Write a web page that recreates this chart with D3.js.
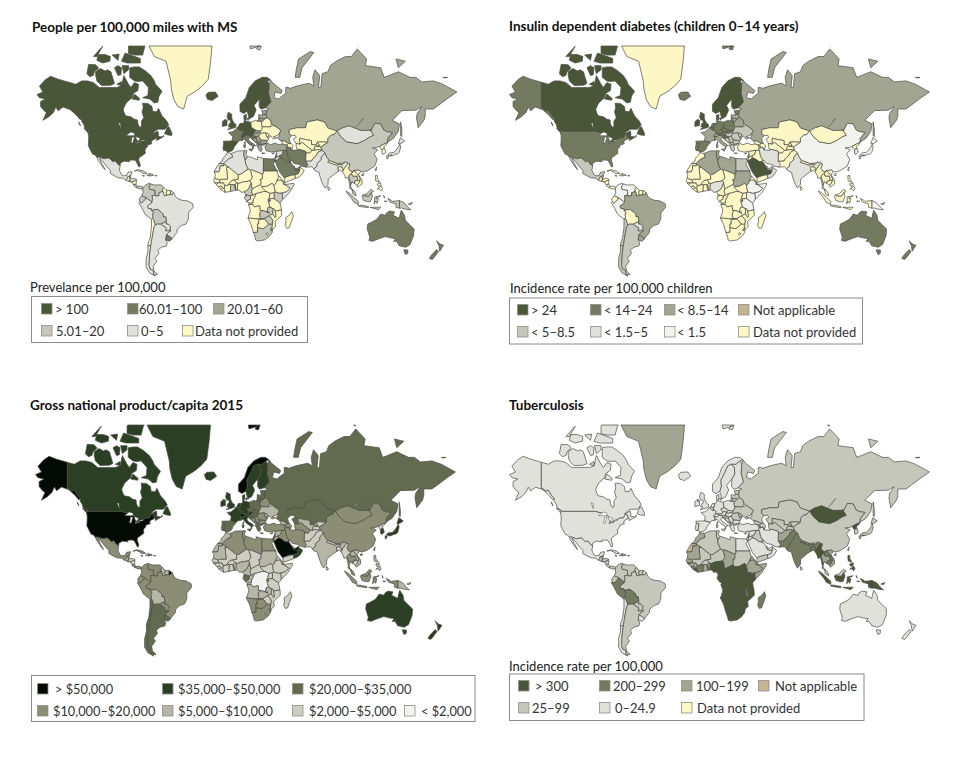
<!DOCTYPE html>
<html><head><meta charset="utf-8">
<script src="https://cdn.jsdelivr.net/npm/d3@7/dist/d3.min.js"></script>
<style>html,body{margin:0;background:#fff}svg{display:block}text{font-family:Lato,"Open Sans",sans-serif}</style>
</head><body><svg id="c" width="960" height="780"></svg>
<script>
// country outlines, longitude,latitude
const shapes = {
CAN:["-141,69.6 -135,69 -130,70 -125,70 -120,69.5 -115,68 -108,68 -100,68 -96,68.5 -94,71.5 -90,69 -88,68 -85,69.5 -81.5,69 -82,67 -86,66 -87,64.5 -92,62.5 -94.5,60 -94,58.7 -92.5,57 -88,56.5 -85,55.3 -82.3,55 -82,53 -80.5,51.3 -79,51.5 -79,54.5 -77,56 -78.5,58.7 -77.5,60.5 -78,62.4 -73.5,62.3 -70,61 -69.5,59 -66,58.8 -64.5,60.3 -61.5,57 -57.5,54.5 -55.7,52.5 -59,50.2 -65,50.2 -68,49 -70,47.5 -65,49.2 -64.5,47.5 -64.8,46.2 -61.5,45.8 -60,46.8 -60,46 -63.5,44.6 -66,43.6 -66,45 -67,45.2 -67.8,47.1 -69.2,47.4 -71,45.3 -74.7,45 -76.5,44 -79,43.3 -79.2,42.8 -83,42 -82.5,43 -82.5,45.3 -84.5,46.5 -88.4,48.3 -89.6,48 -95,49 -123,49 -125,50 -127.5,51 -128,52.5 -130,54.5 -130,55.9 -132,57 -135,59.5 -137.5,59 -139,60 -141,60.3",
"-125,48.5 -128,50.7 -125,50 -123.5,48.5","-59.3,47.7 -57,51.3 -55.5,51.5 -53,48 -53,46.7 -56,46.9",
"-61.5,66.7 -64,65 -65,62.8 -68,62.5 -72,64 -78,64.5 -73.5,65.3 -73,68 -78,70 -82,69.8 -85,70 -89,71 -89,73.5 -85,73.7 -81,73.7 -76,72.8 -71,71.5 -68,70 -67,69 -62,67",
"-118,71.5 -117,70 -113,68.6 -105,68.7 -102,69.2 -105,72.5 -108,73 -110,72.7 -114,73.3 -118,72.5","-125.5,72 -123,71.2 -120,71.5 -119,72.5 -115.5,73.4 -118,74.2 -124,74.3",
"-90,76.6 -85,76.3 -78,76.3 -76,78 -72,79 -65,81 -63,82 -70,83 -90,82 -88,80 -86,79 -90,78","-96,75 -91,74.6 -80,74.6 -80,75.6 -88,76.3 -93,76.7","-117,75.2 -112,74.6 -106,75 -105.5,76 -110,76.4 -116,76.4",
"-87,64 -81,63.5 -80.5,64.2 -85,65.8","-102,73.5 -99,71.5 -96.5,71.7 -96,73.5 -99,74","-95.5,74 -90,74 -90,73 -94,72","-95,81 -88,80.4 -87,79 -92,78.2 -95,79.5","-104,76.3 -99,75.2 -98,76.5","-120,76 -112,78 -117,76","-100,69 -96,68.5 -96,69.8","-132.5,54 -131.5,53 -131,52 -132,53"],
USA:["-124.7,48.4 -123,49 -95,49 -89.6,48 -88.4,48.3 -84.5,46.5 -82.5,45.3 -82.5,43 -83,42 -79.2,42.8 -79,43.3 -76.5,44 -74.7,45 -71,45.3 -69.2,47.4 -67.8,47.1 -67,45.2 -67,44.7 -70,43.7 -70.8,42 -70,41.7 -74,40.6 -74,39.5 -75.5,38.5 -76,37 -75.6,35.3 -78,33.8 -81,32 -81.4,30.5 -80,26.9 -80.3,25.3 -81.2,25.2 -82.7,28 -84,30 -86,30.4 -89.5,30.2 -89.2,29.1 -91,29.3 -94,29.6 -97,28 -97.2,26 -99.5,27.5 -101.5,29.8 -103.2,29 -106.5,31.8 -108.2,31.8 -111,31.3 -114.8,32.5 -117.1,32.5 -118.5,34 -120.6,34.6 -122.5,37.5 -124.3,40.3 -124,44 -124,46.5"],
ALK:["-141,69.6 -141,60.3 -139,60 -137.5,59 -135,59.5 -132,57 -130,55.9 -131,55 -134,57 -137,58.5 -140,59.8 -146,60.8 -150,59.2 -152,60.8 -154,58.5 -158,56.5 -163,54.8 -160,58.5 -162,59.2 -165,61 -165,63 -161,64 -166,64.5 -168,65.6 -163,66.5 -166,68.4 -161,70.3 -156.5,71.3 -150,70.5"],
MEX:["-117.1,32.5 -114.8,32.5 -111,31.3 -108.2,31.8 -106.5,31.8 -103.2,29 -101.5,29.8 -99.5,27.5 -97.2,26 -97.8,22.5 -95.8,18.8 -94,18.2 -91.5,18.5 -90.5,21 -87,21.5 -88,18.5 -89.1,17.9 -91,17.2 -91,16 -92.2,14.5 -94.5,16.2 -99,16.6 -105.5,20 -105.5,22.5 -109,26 -112.5,30 -114.7,31.7 -113,28 -111,25 -110,23 -112,25 -114,28 -115.8,30"],
GTM:["-92.2,14.5 -91,16 -91,17.2 -89.1,17.9 -89,15.9 -88.2,15.7 -89.4,14.4 -90,13.7"],BLZ:["-89.1,17.9 -88,18.5 -88.3,16 -89,15.9"],
HND:["-88.2,15.7 -85,16 -83.2,15 -85,14 -87.3,13 -87.8,13.4 -89.4,14.4"],SLV:["-90,13.7 -89.4,14.4 -87.8,13.4 -88,13.1"],
NIC:["-83.2,15 -83.6,11 -85.7,11.1 -87.3,13 -85,14"],CRI:["-83.6,11 -82.6,9.5 -83,8.2 -85.7,10 -85.7,11.1"],PAN:["-82.6,9.5 -79.5,9.6 -77.3,8.6 -77.9,7.2 -80,7.3 -83,8.2"],
CUB:["-85,21.9 -82,23.1 -77,22 -74.2,20.2 -77.7,19.9 -78,20.7 -82,22.4"],HTI:["-74.4,18.4 -73,19.9 -71.7,19.8 -71.7,18.1"],DOM:["-71.7,19.8 -69,19.2 -68.4,18.6 -71.7,18.1"],JAM:["-78.3,18.4 -76.3,18.2 -77,17.8"],PRI:["-67.2,18.5 -65.6,18.4 -66,18 -67.2,18"],
COL:["-77.3,8.6 -75.5,10.7 -72,12.2 -71.3,11.5 -72.5,9 -72,7 -67.5,6.2 -67.2,2 -70,1.5 -69.5,-0.5 -70,-4.2 -72,-2.5 -75.2,-0.1 -78.8,1.4 -77.5,4 -77.9,7.2"],
VEN:["-71.3,11.5 -68,10.6 -62,10.7 -60,8.5 -61.2,6.8 -60.7,5.2 -64,4 -64,1.5 -67,1.2 -67.2,2 -67.5,6.2 -72,7 -72.5,9"],
GUY:["-60,8.5 -57.2,6 -58,3.8 -57,2 -59.5,1.4 -60.7,5.2 -61.2,6.8"],SUR:["-57.2,6 -54,5.9 -54.5,2.4 -57,2 -58,3.8"],GUF:["-54,5.9 -51.6,4.2 -52.8,2.3 -54.5,2.4"],
BRA:["-51.6,4.2 -50,1 -48,-1 -44,-2.5 -40,-2.8 -35.3,-5.3 -35,-8.5 -39,-13 -39,-18 -41,-22 -45,-23.3 -48.5,-26 -48.7,-28.5 -52,-32 -53.4,-33.7 -53.2,-32.7 -57.6,-30.2 -55.8,-28.3 -53.8,-27.2 -54.6,-25.6 -54.3,-24 -55.8,-22.3 -58,-22 -57.9,-20 -58.2,-16.3 -60.2,-16.3 -60.5,-13.8 -65.3,-10 -70.5,-11 -70.6,-9.5 -73.2,-9.4 -74,-7.3 -70,-4.2 -69.5,-0.5 -70,1.5 -67.2,2 -67,1.2 -64,1.5 -64,4 -60.7,5.2 -59.5,1.4 -57,2 -54.5,2.4 -52.8,2.3"],
ECU:["-78.8,1.4 -80.1,0 -81,-2 -80.3,-3.4 -79,-5 -75.6,-1.6 -75.2,-0.1"],
PER:["-75.2,-0.1 -75.6,-1.6 -79,-5 -80.3,-3.4 -81.3,-4.5 -79,-8 -76,-14 -70.4,-18.3 -69.5,-17.5 -69,-16.5 -69.5,-15 -68.7,-12.5 -70.5,-11 -70.6,-9.5 -73.2,-9.4 -74,-7.3 -70,-4.2 -72,-2.5"],
BOL:["-70.5,-11 -65.3,-10 -60.5,-13.8 -60.2,-16.3 -58.2,-16.3 -57.9,-20 -62.6,-22.2 -65.7,-22.1 -67.2,-22.8 -68.6,-19 -69.5,-17.5 -69,-16.5 -69.5,-15 -68.7,-12.5"],
PRY:["-58,-22 -55.8,-22.3 -54.3,-24 -54.6,-25.6 -55.8,-27.3 -58.6,-27.3 -57.7,-25.3 -62.6,-22.2 -57.9,-20"],
CHL:["-69.5,-17.5 -68.6,-19 -67.2,-22.8 -68.3,-24.5 -70,-33 -71,-38 -73.5,-38 -73.5,-37 -71.5,-32 -70.5,-25 -70.4,-18.3"],
CHS:["-71,-38 -72,-44 -72.5,-50 -71.5,-52 -69,-52.5 -68.6,-54.9 -67,-55.5 -72,-54 -75,-51 -75,-46 -73.5,-42 -73.5,-38"],
ARG:["-65.7,-22.1 -62.6,-22.2 -57.7,-25.3 -58.6,-27.3 -55.8,-27.3 -53.8,-27.2 -55.8,-28.3 -57.6,-30.2 -58.3,-34 -57,-36 -57.8,-38.2 -62,-39 -65,-41 -64,-42.8 -67.5,-46 -65.8,-47.5 -69,-50.5 -68.4,-52.3 -69,-52.5 -71.5,-52 -72.5,-50 -72,-44 -71,-38 -70,-33 -68.3,-24.5 -67.2,-22.8","-68.6,-52.7 -68.6,-54.9 -65.2,-54.7"],
URY:["-57.6,-30.2 -53.2,-32.7 -53.4,-33.7 -55,-34.9 -58.3,-34"],
GRL:["-73,78.2 -60,82.5 -30,83.6 -18,80 -20,75 -22,70.5 -27,68.5 -33,66.7 -40,65 -43,60 -48,61 -51.5,64 -53.5,67.5 -54,70 -58,75 -68,76"],
ISL:["-24,65.5 -22,66.4 -16,66.5 -13.6,65 -18.8,63.4 -22.7,63.9"],
GBR:["-5.5,50 -1,50.7 1.4,51.2 1.7,52.7 0,53.4 -1.5,55 -2,56 -2,57.7 -5,58.6 -6,56.5 -5,55 -3,54.9 -3,53.4 -4.5,53 -4.2,52.2 -5.2,51.7 -3,51.3","-7.3,55.2 -5.5,54.5 -6.2,54.1 -8,54.5"],
IRL:["-8,54.5 -6.2,54.1 -6,52.2 -10,51.7 -10,54 -8.5,55 -7.3,55.2"],
FRA:["2.5,51.1 4.2,50 5.8,49.5 6.5,49.8 8.2,49 7.6,47.6 6,46.2 7,45.9 7,44 7.5,43.8 4,43.4 3.1,42.4 -1.8,43.4 -1.2,46 -4.7,48.4 -1.6,48.7 0,49.5 1.5,50.2","8.6,41.9 9.4,43 9.4,41.5"],
ESP:["-9.2,43.2 -1.8,43.4 3.1,42.4 0,39.5 -0.5,38 -2,36.8 -5.5,36 -7.4,37.2 -7,39.5 -6.5,41.7 -8.8,41.9"],PRT:["-8.8,41.9 -6.5,41.7 -7,39.5 -7.4,37.2 -9,37 -9.5,38.8"],
BEL:["2.5,51.1 4.2,51.4 6,50.7 5.8,49.5 4.2,50"],NLD:["3.5,51.4 4.2,51.4 6,50.7 7.1,53.2 5,53.3"],LUX:["5.8,49.5 6.1,50.1 6.5,49.8"],
DEU:["6,50.7 7.1,53.2 8.7,53.9 8.7,54.9 10,54.5 14.2,53.9 14.8,51 12.2,50.3 13.8,48.7 13,47.5 7.6,47.6 8.2,49 6.5,49.8 6.1,50.1"],
DNK:["8.2,57 10.5,57.7 10.3,55 8.7,54.9","11,55.8 12.5,56 12,54.8"],CHE:["6,46.2 7.6,47.6 9.6,47.5 10.4,46.8 9,45.9 7,45.9"],AUT:["9.6,47.5 13,47.5 13.8,48.7 15,49 17,48.7 16.1,46.9 13.7,46.5 10.4,46.8"],
ITA:["7,44 7,45.9 9,45.9 10.4,46.8 13.7,46.5 13.6,45.6 12.3,45 12.4,44 14,42.5 16,41.9 18.5,40.2 17,40.5 16.5,39 16,38 15.7,40 12.5,41.5 10.5,43 8.8,44.4","12.5,38 15.6,38.2 15,36.7","8.2,41 9.7,41 9.5,39.1 8.5,39"],
POL:["14.2,53.9 18.5,54.8 19.8,54.4 23,54.4 23.5,53.9 23.5,52.6 24,51.6 23.9,50.5 22.5,49.1 18.8,49.5 14.8,51"],CZE:["12.2,50.3 14.8,51 18.8,49.5 17,48.7 15,49 13.8,48.7"],SVK:["17,48.7 18.8,49.5 22.5,49.1 22,48.4 17.8,47.8"],HUN:["16.1,46.9 17,48.7 17.8,47.8 22,48.4 22.8,48 21,46.2 18.8,45.9 16.5,46.4"],
SVN:["13.7,46.5 16.1,46.9 16.5,46.4 15.5,45.6 13.6,45.5"],HRV:["13.6,45.5 15.5,45.6 16.5,46.4 18.8,45.9 19,44.9 16,45.2 15.8,44.7 17,43.5 18.5,42.5 15,44.5"],BIH:["16,45.2 19,44.9 19.5,43.5 18.5,42.5 17,43.5 15.8,44.7"],
SRB:["18.8,45.9 21,46.2 22.5,44.5 22.8,43 22.4,42.3 20.5,42.3 19.5,43.5 19,44.9"],MNE:["18.5,42.5 19.5,43.5 20.3,42.8 19.3,41.9"],ALB:["19.3,41.9 20.5,42.3 21,40.8 20,39.7 19.3,40.6"],MKD:["20.5,42.3 22.4,42.3 23,41.3 21,40.8"],
GRC:["21,40.8 23,41.3 26.3,41.7 26,40.9 23,40.4 24,38 23,36.5 21.5,37 20,39.7","23.6,35.6 26.3,35.2 24,35"],BGR:["22.8,43 22.5,44.1 28.6,43.7 27.7,42 26.3,41.7 23,41.3 22.4,42.3"],
ROU:["21,46.2 22.8,48 26.6,48.3 28.2,45.5 29.7,45 28.6,43.7 22.5,44.1 22.5,44.5"],MDA:["26.6,48.3 29.2,47.6 30,46.4 28.2,45.5"],
UKR:["23.9,50.5 24,51.6 30.5,51.5 34,52.3 40,49.6 38,47.1 35,46.2 33.5,46 36.5,45.3 33.5,44.5 32.5,45.4 31,46.6 29.7,45 28.2,45.5 30,46.4 29.2,47.6 26.6,48.3 22.8,48 22,48.4 22.5,49.1"],
BLR:["23.5,52.6 24,51.6 30.5,51.5 32,53 31,55 28,56.1 26,55.5 23.5,53.9"],LTU:["21,56 26,55.5 23.5,53.9 23,54.4 21,55.2"],LVA:["21,56 21,57.5 24.3,57.2 24.4,57.9 27.3,57.5 28,56.1 26,55.5"],EST:["23.5,59.2 28,59.5 27.3,57.5 24.4,57.9"],
FIN:["23,59.9 27,60.5 31.5,62.9 29.5,66 30,69 28.5,70 25,69 20.6,69 23.7,68 24,65.8 21.5,64 21.3,61"],
SWE:["11.2,59 13,55.4 14.5,56 16.5,56.7 18.8,59.6 17,61.5 21.5,64 24,65.8 23.7,68 20.6,69 18,68.5 15,66 12,63.5 12.5,61"],
NOR:["5,59 8,58 11.2,59 12.5,61 12,63.5 15,66 18,68.5 20.6,69 25,69 28.5,70 31,70.3 28,71 24,71 18,70 13,68 10,64.5 5,62"],
SJM:["14,77.5 22,78 20,79.5 12,79.5","24,78.5 21,78 19,77.5 22,77.3"],
RUS:["31,70.3 33,69.4 41,67 40,66 35,66.5 34,64.5 38,64 40.5,65 44,66 44,68 46,68 48,67.7 54,68.5 60,69 64,69.3 68,68.5 67,71 69,73 73,71.5 72,68 74,68 75,72 80,72.5 82,74 87,75 95,76 100,76 105,77.5 113,75.5 112,74 125,73.5 128,71 132,71.5 140,72.5 150,71 155,71 160,69.7 170,70 178,69 190,66.5 183,64.5 177,62.5 170,60 163,60 163,57 162,55 157,51 155.5,56 156,58 160,61 155,59.5 143,59.3 135,54.8 141,53 140,49 136,45 131,42.7 130.7,42.3 131,45 135,48.4 130,48.9 127.5,49.8 125,53 120,53.3 117,49.6 108,49.5 98,52 92,50.8 87.8,49.2 80,50.8 77,54 71,55 62,54 61,51 54,51 47,50 47,48 49,46.5 48,45.7 47,45 47.5,43 48.6,41.8 46.5,41.8 43,43.2 40,43.5 37,45 39,47 38,47.1 40,49.6 34,52.3 32,53 31,55 28,56.1 27.3,57.5 28,59.5 30,60 27,60.5 31.5,62.9 29.5,66 30,69",
"52,71 56,71 58,73.5 68,76.8 65,77 55,75.5 53,73","142,54 143,50 143,46 142,46.5 142,50","19.8,54.4 22.8,54.4 22,55.1 20.5,55","138,75.5 140,73.5 146,75","178,71 182,71 180,70.8","95,79 105,78 100,79.5"],
KAZ:["47,50 54,51 61,51 62,54 71,55 77,54 80,50.8 87.8,49.2 85,47 83,47 80,45 80,42.5 75,42.8 71,42.7 70,41 66,41 66,43.6 61,44.2 56,45 56,41.3 52.8,41.8 50.5,44.5 53,45.5 52,46.8 49,46.5 47,48"],
UZB:["56,45 61,44.2 66,43.6 66,41 70,41 71,42.7 73,40.5 70,40 69,40 68,37.2 66.5,37.3 62,40 58,42.5 56,41.3"],TKM:["52.8,41.8 56,41.3 58,42.5 62,40 66.5,37.3 64.5,35.3 61.2,35.5 61,36.6 55,38 53.8,37.3 53,39.5"],
KGZ:["71,42.7 75,42.8 80,42.5 74,39.5 70,40 73,40.5"],TJK:["68,37.2 69,40 70,40 74,39.5 75,37.3 71.5,37.8"],AFG:["61.2,35.5 64.5,35.3 66.5,37.3 68,37.2 71.5,37.8 75,37.3 71.5,36 70,33.5 67,31.3 66,29.6 61,29.5 61,31.5"],
PAK:["61.5,25 61,29.5 66,29.6 67,31.3 70,33.5 71.5,36 75,37.3 77.5,35.5 74,32 74.7,31 71,28 70.5,25.5 68,23.7 66.5,25.4"],
IND:["77.5,35.5 79,32.5 81,30.2 80,28.8 88,26.4 88.8,27.2 92,26.8 95,29 97.4,28 94,24 93,22 92.2,25 89.8,25.3 88.5,25 89,21.8 86,20 80.3,15.5 80,11 77.5,8 75,12.5 72.8,19 72.5,21 69,22.3 68,23.7 70.5,25.5 71,28 74.7,31 74,32"],
NPL:["80,28.8 81,30.2 88.2,27.8 88,26.4"],BTN:["88.8,27.2 92,26.8 91.8,28 89.5,28"],BGD:["88.5,25 89.8,25.3 92.2,25 93,22 92.5,21.5 91,22.7 89,21.8"],LKA:["80,9.5 81.8,7.5 80.5,6 79.8,8"],
CHN:["74,39.5 80,42.5 80,45 83,47 85,47 87.8,49.2 91,46 96,42.8 105,41.7 111,43.7 116,46 119,46.8 116,49.8 117,49.6 120,53.3 125,53 127.5,49.8 130,48.9 135,48.4 131,45 130.7,42.3 128,41.5 124.3,40 121.5,39 118,39 122.5,37.5 119.3,35 122,31 120,26 114,22.3 110.3,21.3 108,21.6 106.5,22.7 102,22.4 101.5,21.2 99,22 97.5,24 98.7,27.5 97.4,28 95,29 91.8,28 89.5,28 88.2,27.8 81,30.2 79,32.5 77.5,35.5 75,37.3","108.7,19.3 110.5,20 110.5,18.6 109,18.3"],
TWN:["120.2,23 121.5,25.2 121,22"],MNG:["87.8,49.2 92,50.8 98,52 108,49.5 117,49.6 116,49.8 119,46.8 116,46 111,43.7 105,41.7 96,42.8 91,46"],
PRK:["124.3,40 128,41.5 130.7,42.3 129.7,41 127.5,39.7 128.3,38.6 126,37.8 125,38.5"],KOR:["126,37.8 128.3,38.6 129.4,36 127.5,34.6 126.3,34.7"],
JPN:["131,34 132.5,35.5 136,35.8 138,37.2 140,39.5 141.3,41.4 142,39.5 140.9,36 139.8,35 136.9,34.3 135,33.5","130,33.5 131.8,33.3 131,31.2 130.2,31.3","132.5,33.5 134.5,34.2 134,33.4","140,41.5 141.8,45.4 145.5,43.3 143,42"],
MMR:["92.5,21.5 93,22 94,24 97.4,28 98.7,27.5 97.5,24 99,22 101.5,21.2 100.1,20.4 97.8,18 98.5,15 99.6,11.8 98.7,10 98,13.5 97,17 95,16 94.3,18.5"],
THA:["97.8,18 100.1,20.4 101,18 104.8,18 105.5,14.4 102.5,13.5 102.9,11.7 101,12.7 100.5,13.5 99.2,10 100.5,7 102,6 100.5,6.7 98.3,8 99.6,11.8 98.5,15"],
LAO:["100.1,20.4 101.5,21.2 102,22.4 104,20.8 106,18.5 107.5,16 107.5,14.5 105.5,14.4 104.8,18 101,18"],VNM:["102,22.4 106.5,22.7 108,21.6 106,19 109,15 109.2,11.5 105.3,8.7 104.8,10.4 106,11.7 107.5,14.5 107.5,16 106,18.5 104,20.8"],KHM:["102.5,13.5 105.5,14.4 107.5,14.5 106,11.7 104.8,10.4 102.9,11.7"],
MYS:["100.5,6.7 102,6 103.5,4 104.2,1.4 101.3,3","109.6,2 111.3,1.2 115,1 117,4.2 119,5.2 116.7,7 113.5,3.5 111,2.5"],
IDN:["109,1 109.6,2 111.3,1.2 115,1 117,4.2 118,1 116.3,-3.5 114,-3.6 110.3,-2.5","95.3,5.5 98,4 104,-1.5 106,-3.5 105.8,-5.8 102,-4 100.3,-1 97,3","105.3,-6.5 108.5,-6.5 114.5,-7.7 114.5,-8.7 106.5,-7.5","119.5,-5.5 120,0.5 125,1.5 121,-0.5 123,-1 122,-5 120.5,-3","116,-8.4 125,-8.2 123,-10.3","128,-3 130.5,-3.2 129,-3.6","127.5,1.8 128.5,-0.5 127.8,0","131,-0.8 134,-2.3 135,-3.3 141,-2.6 141,-9.1 138,-8.3 138,-5.5 133,-4"],
PHL:["120.5,16 120.5,18.5 122.2,18.3 122,16 124,13 120.8,13.9","122,7 125.5,9.7 126.5,7.5 125.3,5.7 123.5,7.5","122,11.5 125,12.5 125,10.3 123,9.3"],
PNG:["141,-2.6 145,-4.5 148,-8 150.8,-10.5 147,-10 143,-9 141,-9.1","148.5,-5.6 152,-4.2 151,-6"],
AUS:["114,-22 113.5,-26 115.7,-32 115,-34.4 118,-35 124,-33 129,-31.6 134,-32.7 137.8,-33 136,-35 138.5,-35 140.8,-38 146.4,-39 150,-37.2 153,-31 153.5,-26 149,-22 146,-19 145.3,-15 142.5,-10.8 141.6,-14 140.8,-17.5 135.5,-15 136.8,-12.2 132.5,-11.5 130,-13 129,-15 125,-14 122,-18 118,-20.3","144.7,-40.7 148.2,-40.8 148,-43 146,-43.6 145.2,-42"],
NZL:["172.7,-34.5 174.5,-36 175.5,-36.8 178.5,-37.7 177,-39.5 175.3,-41.6 174.9,-39.9 174.7,-38","172.7,-40.5 174.3,-41.7 171,-45 169,-46.6 166.5,-46 168,-44.2"],
MAR:["-5.9,35.8 -2.2,35.1 -1.2,32.5 -5,31 -8.7,28 -8.7,27.7 -13,27.7 -9.8,29.8 -9.8,31.5 -6.8,34"],ESH:["-13,27.7 -8.7,27.7 -8.7,26 -12,26 -12,23.4 -13,21.3 -17,21.3 -16,23.5"],
DZA:["-2.2,35.1 3,36.9 8.6,36.9 8.3,34 9.5,30.2 9.9,27.5 12,23.5 5.8,19.5 3.3,19 -4.8,25 -8.7,27.3 -8.7,28 -5,31 -1.2,32.5"],TUN:["8.6,36.9 10.2,37.3 11,36.9 10,34.5 11.5,33 9.5,30.2 8.3,34"],
LBY:["11.5,33 15,32.3 19.8,30.5 20,32.8 25,31.6 25,20 24,19.5 15,23 14,22.5 12,23.5 9.9,27.5 9.5,30.2"],EGY:["25,31.6 32,31.2 34.2,31.3 35,29.5 33.5,27.8 35.5,24 37,22 25,22"],
SDN:["25,22 37,22 37.4,18.5 38.5,18 36.5,14.3 36,12.5 34,10 32.5,12 28,9.5 24,9 22.5,11 23,13 22,15 24,15.7 24,19.5 25,20"],SSD:["24,9 28,9.5 32.5,12 34,10 35,5 34,4 30.8,3.5 27.5,5 25,5.2 23.5,8.5"],
ERI:["36.5,14.3 38.5,18 43,12.5 40,14.7"],DJI:["42,12.5 43.4,12 43.3,11 42,11"],ETH:["36.5,14.3 40,14.7 42,12.5 42,11 43.3,11 48,8 45,5 42,4 39,3.5 35.8,4.5 35,5 34,10 36,12.5"],SOM:["43.3,11 51,12 51,10.5 47,4 41.5,-1.7 41,3.9 42,4 45,5 48,8"],
KEN:["34,4 35.8,4.5 39,3.5 41,3.9 41.5,-1.7 39.2,-4.7 34,-1 34,1"],UGA:["30.8,3.5 34,4 34,1 34,-1 30,-1 29.8,0"],TZA:["30,-1 34,-1 39.2,-4.7 40.4,-10.5 35,-11.5 34,-9.5 32.9,-9.4 30.7,-8.2 29.5,-5 29.5,-4.4 30.7,-3 30.7,-2.4"],RWA:["29,-1.4 30,-1 30.7,-2.4 29,-2.7"],BDI:["29,-2.7 30.7,-2.4 30.7,-3 29.5,-4.4"],
COD:["12.2,-6 13,-4.6 16,-4.7 16.2,-2 18,1.5 18.6,3.5 22,4.2 25,5.2 27.5,5 30.8,3.5 29.8,0 30,-1 29,-1.4 29,-2.7 29.5,-4.4 29.5,-5 30.7,-8.2 28.9,-8.5 28,-12.4 29.8,-12.2 29.8,-13.4 27.5,-12 24,-11 22,-11 22,-9.5 21.8,-7 17.5,-8 16,-6"],
COG:["11.2,-3.9 13,-4.6 16,-4.7 16.2,-2 18,1.5 18.6,3.5 16,2 14,1.4 14,-1.5 11.5,-2.5"],GAB:["9.5,1 11.3,2.2 14,1.4 14,-1.5 11.5,-2.5 11.2,-3.9 8.8,-0.7"],GNQ:["9.5,1 9.8,2.3 11.3,2.2"],
CMR:["8.5,4.5 9.8,2.3 11.3,2.2 14,1.4 16,2 15,5 15.5,7.5 15,10 14.5,12.8 13,9 11.5,6.5 8.8,5"],CAF:["15,5 16,2 18.6,3.5 22,4.2 25,5.2 27.5,5 23.5,8.5 24,9 22.5,11 18.5,9 15.5,7.5"],
TCD:["14.5,12.8 15,10 15.5,7.5 18.5,9 22.5,11 23,13 22,15 24,15.7 24,19.5 15,23 14,22.5 15.5,16.8 13.5,14"],NER:["0,14.9 3.5,15.5 3.3,19 5.8,19.5 12,23.5 14,22.5 15.5,16.8 13.5,14 7,13 3.6,11.7 2,12.7"],
NGA:["2.7,6.3 3,12 3.6,11.7 7,13 13.5,14 14.5,12.8 13,9 11.5,6.5 8.8,5 6,4.3 4.5,6.3"],BEN:["1.6,6.2 2.7,6.3 3,12 3.6,11.7 2,12.7 0.9,11"],TGO:["1.2,6.1 1.6,6.2 0.9,11 0,11"],GHA:["-3.2,5.1 1.2,6.1 0,11 -2.9,11"],
BFA:["-2.9,11 0,11 0.9,11 2,12.7 0,14.9 -2,14.5 -5.5,10.5"],CIV:["-7.6,4.4 -3.2,5.1 -2.9,11 -5.5,10.5 -8,10.2 -8.5,7.6"],LBR:["-11.5,6.9 -7.6,4.4 -8.5,7.6 -10,8.4"],SLE:["-13.3,9 -11.5,6.9 -10,8.4 -11,10"],
GIN:["-15,10.9 -13.3,9 -11,10 -10,8.4 -8.5,7.6 -8,10.2 -9,12.4 -12,12.4 -13.7,12.6"],GNB:["-16.7,12.4 -13.7,12.6 -15,10.9"],SEN:["-17.5,14.7 -16.5,16.2 -12.2,14.8 -12,12.4 -13.7,12.6 -16.7,12.4"],
MLI:["-12.2,14.8 -11,15.5 -5.5,15.5 -6.5,25 -4.8,25 3.3,19 3.5,15.5 0,14.9 -2,14.5 -5.5,10.5 -8,10.2 -9,12.4 -12,12.4"],MRT:["-16.5,16.2 -16,19 -17,21.3 -13,21.3 -12,23.4 -12,26 -8.7,26 -8.7,27.3 -4.8,25 -6.5,25 -5.5,15.5 -11,15.5 -12.2,14.8"],
AGO:["12.2,-6 16,-6 17.5,-8 21.8,-7 22,-9.5 22,-11 24,-11 22,-13 22,-16.2 23.4,-17.6 20.8,-18 14,-17.4 11.8,-17.3 13.5,-12.5 13.8,-10.5"],
ZMB:["22,-13 24,-11 27.5,-12 29.8,-13.4 29.8,-12.2 28,-12.4 28.9,-8.5 30.7,-8.2 32.9,-9.4 33.2,-11 33,-14 30.2,-15 28.8,-16 25.3,-17.8 23.4,-17.6 22,-16.2"],MWI:["32.9,-9.4 34,-9.5 35,-11.5 35.8,-16 35,-17 33,-14 33.2,-11"],
MOZ:["35,-11.5 40.4,-10.5 40.7,-15 35,-20 35.5,-24 32.9,-26 32,-26 32.5,-22.3 33,-19 30.2,-15.6 30.2,-15 33,-14 35,-17 35.8,-16"],ZWE:["25.3,-17.8 28.8,-16 30.2,-15.6 33,-19 32.5,-22.3 29.4,-22.2 26,-18"],
NAM:["11.8,-17.3 14,-17.4 20.8,-18 23.4,-17.6 25.3,-17.8 24,-18.4 21,-18.3 21,-22 20,-22 20,-28.4 16.5,-28.6 14.5,-22.5"],BWA:["21,-18.3 24,-18.4 26,-18 29.4,-22.2 26.5,-24.7 25,-25.7 20,-25 20,-22 21,-22"],
ZAF:["16.5,-28.6 20,-28.4 20,-25 25,-25.7 26.5,-24.7 29.4,-22.2 32.5,-22.3 32,-26 32.9,-26 32.5,-28.5 30,-31.5 26,-34 20,-34.8 18.3,-34 18,-32"],LSO:["27,-29.6 28.5,-28.6 29.4,-29.5 28,-30.6"],SWZ:["31,-25.9 32,-26 32,-27.3 31,-27.2"],
MDG:["49.3,-12 50.5,-15.5 47,-25 45,-25.5 43.5,-23 44.3,-20 44,-17 47,-15"],
TUR:["26.3,41.7 28,42 31,41 35,42 38,41 41.5,41.5 43.5,41 44.7,39.7 44.8,37.2 42,37.2 38,36.8 36.2,36.2 36,36.8 32,36 30,36.5 27.3,37 26.3,39.5 26.5,40.2 28,41"],SYR:["36.2,36.2 38,36.8 42,37.2 41,34.4 38.8,33.4 36,32.4 35.8,33.3 36.5,34.5 35.9,34.7"],
LBN:["35.9,34.7 36.5,34.5 35.8,33.3 35.1,33.1"],ISR:["35.1,33.1 35.8,33.3 35.8,32.7 35.5,31 35,29.5 34.2,31.3"],JOR:["35.8,32.7 36,32.4 38.8,33.4 39,32 37,30.5 35,29.5 35.5,31"],
IRQ:["38.8,33.4 41,34.4 42,37.2 44.8,37.2 45.5,35.5 46,33 48.5,30 47.7,30 46.5,29.1 44.7,29.2 42,31 39,32"],IRN:["44.8,37.2 44.7,39.7 46,39 48,39.5 49,37.5 53.8,37.3 55,38 61,36.6 61.2,35.5 61,31.5 61,29.5 63,27 61.5,25 57,26 56,27 51,27.9 48.8,30.3 48.5,30 46,33 45.5,35.5"],
SAU:["35,29.5 37,30.5 39,32 42,31 44.7,29.2 46.5,29.1 48.4,28.5 50,26.5 51.2,24.6 52,23 55.3,22.7 55.7,22 55,20 52,19 49,18.6 45,17.5 43.2,16.7 42.7,16.5 39,21 37,25"],
YEM:["43.2,16.7 45,17.5 49,18.6 52,19 52.2,16 43.5,12.7 42.8,15"],OMN:["52,19 55,20 55.7,22 56,24.4 56.4,24.9 59.8,22.5 57.5,18.9 55,17 52.2,16"],ARE:["51.6,24.2 54,24.2 56.4,26 56.4,24.9 56,24.4 55.7,22 55.3,22.7 52,23"],QAT:["50.8,24.7 51.6,25.9 51.6,24.6"],KWT:["47.7,30 48.4,28.5 46.5,29.1"],
AZE:["45,41 46.5,41.8 48.6,41.8 50.4,40.3 49,37.5 48,39.5 46,39"],ARM:["43.5,41 45,41 46,39 44.7,39.7"],GEO:["40,43.5 43,43.2 46.5,41.8 45,41 43.5,41 41.5,41.5"],CYP:["32.3,35 34.5,35.7 33.5,34.7"]
};
const lakes = ["-92,46.7 -88,48.7 -85,47.9 -84.7,46.6 -87,46.5","-87.8,42 -86.5,42 -85,45.7 -87,45.7","-84,46 -80,45 -81.7,43.2 -83,44","-83.3,41.7 -79,42.7 -79,43 -83,42.3","-79.5,43.3 -76.3,43.5 -76.3,44.1 -79.3,43.8","-98.5,53.5 -96.5,50.5 -97,53.5","104,51.6 110,55.7 109,55 105,51.7"];

// one list per legend class, best class first
const msClasses = [
 ["CAN","USA","ALK","GBR","IRL","ISL","NOR","SWE","FIN","DNK","DEU","NLD","BEL","LUX","CHE","AUT","CZE","ESP","PRT"],
 ["FRA","ITA","AUS","NZL","EGY","IRN","SAU","KWT","IRQ","ARE","SVN","HRV","URY"],
 ["RUS","EST","LVA","LTU","TUR","HUN","SRB","BGR","BIH","MNE","MKD","ALB","GRC","SVK","QAT","CYP"],
 ["CHN","ZAF","BOL","COL","VEN","ECU","MYS","IDN","PNG","THA","TUN","CMR","GAB","KEN","ZMB","ZWE","RWA","BDI","GHA","TGO","CRI","PAN","SJM"],
 ["MEX","BRA","ARG","PER","PRY","GUF","MAR","ESH","DZA","LBY","MNG","IND","PAK","SYR","JOR","JPN","TWN","CUB","DOM","HTI","JAM","PRI","BLZ","HND","SLV","SOM","LKA","CHS"],
 ["GRL","POL","UKR","BLR","ROU","MDA","KAZ","UZB","TKM","KGZ","TJK","AFG","NPL","BTN","BGD","MMR","LAO","VNM","KHM","PRK","KOR","PHL","GEO","AZE","ARM","LBN","ISR","YEM","OMN","CHL","GUY","SUR","GTM","NIC","MRT","MLI","NER","TCD","SDN","SSD","ERI","DJI","ETH","UGA","TZA","COD","COG","GNQ","CAF","NGA","BEN","BFA","CIV","LBR","SLE","GIN","GNB","SEN","AGO","MWI","MOZ","NAM","BWA","LSO","SWZ","MDG"]];
const diabetesClasses = [
 ["CAN","GBR","IRL","NOR","SWE","FIN","DNK","SAU"],
 ["USA","ALK","AUS","NZL","DEU","POL","CZE","NLD","BEL","LUX","ISL","ESP","PRT","AUT","SVN","HRV","EST","SJM","SVK"],
 ["RUS","FRA","CHE","LTU","LVA","BLR","DZA","TUN","LBY","SDN","BRA","ITA","URY"],
 ["ARG","CHL","CHS","MEX","UKR","BGR","ROU","HUN","SRB","EGY","ARE","GRC"],
 ["IRN","IND","KOR","NGA","OMN","MDA","BIH","KWT","PRY"],
 ["CHN","ETH","COL","VEN","PER","TZA","PNG","JPN","KEN","SOM","TWN"],
 [],
 ["GRL","KAZ","MNG","UZB","KGZ","TJK","TKM","AFG","PAK","AZE","GEO","ARM","TUR","SYR","IRQ","JOR","LBN","ISR","YEM","QAT","CYP","NPL","BTN","BGD","LKA","MMR","THA","LAO","VNM","KHM","MYS","IDN","PHL","PRK","MAR","ESH","MRT","MLI","NER","TCD","SSD","ERI","DJI","UGA","RWA","BDI","COD","COG","GAB","GNQ","CMR","CAF","BEN","TGO","GHA","BFA","CIV","LBR","SLE","GIN","GNB","SEN","AGO","ZMB","MWI","MOZ","ZWE","NAM","BWA","ZAF","LSO","SWZ","MDG","BOL","GUY","SUR","GUF","ECU","CUB","HTI","DOM","JAM","PRI","GTM","BLZ","HND","SLV","NIC","CRI","PAN","ALB","MKD","MNE"]];
const gnpClasses = [
 ["USA","ALK","NOR","SJM","SAU","ARE","QAT","KWT","LUX","CHE","GUF"],
 ["CAN","GRL","AUS","NZL","GBR","IRL","ISL","SWE","FIN","DNK","DEU","NLD","BEL","FRA","AUT","JPN","KOR","ITA","OMN","GNQ"],
 ["RUS","KAZ","EST","LVA","LTU","POL","CZE","SVK","HUN","ESP","PRT","GRC","SVN","HRV","CHL","CHS","URY","ARG","ISR","GAB","TWN","PRI","CYP"],
 ["BRA","MEX","COL","VEN","PER","ECU","CHN","MNG","IRN","IRQ","TUR","DZA","LBY","EGY","TKM","BLR","BGR","ROU","SRB","ZAF","NAM","BWA","THA","IDN","MYS","TUN","PRY","CRI","PAN","AZE","LBN","MKD","MNE","BIH","ALB","CUB","DOM"],
 ["BOL","MAR","ESH","UKR","IND","LKA","PHL","VNM","MRT","AGO","NGA","SYR","JOR","ARM","GEO","GUY","SUR","GTM","SLV","BLZ","JAM","PNG","LAO","MDA","SDN","UZB","BTN","SWZ","LSO","COG","CMR","ZMB"],
 ["PAK","AFG","TJK","KGZ","NPL","BGD","MMR","KHM","PRK","YEM","MLI","NER","TCD","SSD","ERI","DJI","ETH","SOM","KEN","UGA","TZA","RWA","BDI","CAF","BEN","TGO","GHA","BFA","CIV","LBR","SLE","GIN","GNB","SEN","MWI","MOZ","ZWE","MDG","HTI","NIC","HND"],
 ["COD"]];
const tbClasses = [
 ["MNG","PRK","MMR","NGA","CAF","COD","COG","AGO","NAM","BWA","ZAF","ZMB","ZWE","MOZ","TZA","UGA","KEN","SSD","GAB","CMR","GNQ","LSO","SWZ","IDN","PNG","PHL","RWA","BDI","LBR"],
 ["IND","PAK","BGD","NPL","BTN","MDG","MWI","KHM","LAO","PER","BOL","SLE","GNB","CIV"],
 ["GRL","ETH","ERI","DJI","SOM","MAR","MRT","TCD","AFG","THA","VNM","TGO","GIN","SEN","GHA","BEN"],
 ["RUS","CHN","KAZ","UZB","TKM","KGZ","TJK","MDA","UKR","LTU","LVA","EST","BRA","COL","ECU","VEN","GUY","SUR","PRY","ARG","DZA","TUN","LBY","MLI","NER","BFA","SDN","YEM","IRQ","AZE","ARM","GEO","ROU","KOR","JPN","MYS","LKA","GTM","HND","NIC","PAN","DOM","HTI","BLR"],
 ["CAN","USA","ALK","MEX","CRI","SLV","CUB","BLZ","JAM","PRI","URY","CHL","CHS","ISL","SJM","GBR","IRL","FRA","ESP","PRT","BEL","NLD","LUX","DEU","DNK","CHE","AUT","ITA","POL","CZE","SVK","HUN","SVN","HRV","BIH","SRB","MNE","ALB","MKD","GRC","BGR","FIN","SWE","NOR","TUR","SYR","LBN","ISR","JOR","IRN","SAU","OMN","ARE","QAT","KWT","CYP","EGY","AUS","NZL","TWN"],
 ["ESH"],
 ["GUF"]];

const greys = ["#4a5638","#737a60","#a3a593","#c6c7bb","#e1e1dc"];
const notApplicable = "#c6b48e", notProvided = "#fcf7c5", palest = "#f2f2ef";
const msColors = [...greys, notProvided];
const diabetesColors = [...greys, palest, notApplicable, notProvided];
const gnpColors = ["#040a04","#2a3f23","#626b50","#8b8e74","#b5b6a5","#cdcdc1","#f3f3f0"];
const tbColors = [...greys, notApplicable, notProvided];

const msTitle = "People per 100,000 miles with MS", msLegendTitle = "Prevelance per 100,000";
const diabetesTitle = "Insulin dependent diabetes (children 0\u201314 years)", diabetesLegendTitle = "Incidence rate per 100,000 children";
const gnpTitle = "Gross national product/capita 2015", gnpLegendTitle = "";
const tbTitle = "Tuberculosis", tbLegendTitle = "Incidence rate per 100,000";
const msLabels = ["> 100","60.01\u2013100","20.01\u201360","5.01\u201320","0\u20135","Data not provided"];
const diabetesLabels = ["> 24","< 14\u201324","< 8.5\u201314","< 5\u20138.5","< 1.5\u20135","< 1.5","Not applicable","Data not provided"];
const gnpLabels = ["> $50,000","$35,000\u2013$50,000","$20,000\u2013$35,000","$10,000\u2013$20,000","$5,000\u2013$10,000","$2,000\u2013$5,000","< $2,000"];
const tbLabels = ["> 300","200\u2013299","100\u2013199","25\u201399","0\u201324.9","Not applicable","Data not provided"];

const parseRing = s => { const r = s.split(" ").map(p => p.split(",").map(Number)); r.push(r[0].slice()); 
  return d3.geoArea({type:"Polygon",coordinates:[r]}) > 2*Math.PI ? r.reverse() : r; };
const features = Object.entries(shapes).map(([id,rings]) => ({type:"Feature",id,geometry:{type:"MultiPolygon",coordinates:rings.map(s=>[parseRing(s)])}}));
const lakeFeature = {type:"MultiPolygon",coordinates:lakes.map(s=>[parseRing(s)])};

const panels = [
 {title:msTitle,lt:msLegendTitle,classes:msClasses,colors:msColors,labels:msLabels,cx:247,cy:197.5,top:46,tx:32,ty:32,ltx:30,lty:292,fs:13,
  box:[31.5,296.5,276,46],
  items:[[0,41,303,55],[1,127,303,139],[2,213,303,227],[3,41,325,56],[4,127,325,141],[5,182,325,195]]},
 {title:diabetesTitle,lt:diabetesLegendTitle,classes:diabetesClasses,colors:diabetesColors,labels:diabetesLabels,cx:719.5,cy:197.5,top:46,tx:509,ty:31,ltx:510,lty:293,fs:13,
  box:[509.5,298,353,46],
  items:[[0,517,304,531],[1,590,304,604],[2,664,304,677],[6,738,304,753],[3,517,326,531],[4,590,326,604],[5,664,326,677],[7,738,326,753]]},
 {title:gnpTitle,lt:gnpLegendTitle,classes:gnpClasses,colors:gnpColors,labels:gnpLabels,cx:245.5,cy:577.5,top:425,tx:30,ty:410,ltx:30,lty:671,fs:12.8,
  box:[31.5,675.5,443.5,46],
  items:[[0,37,683,55],[1,162,683,178],[2,292,683,309],[3,37,705,53],[4,162,705,178],[5,292,705,309],[6,404,705,421]]},
 {title:tbTitle,lt:tbLegendTitle,classes:tbClasses,colors:tbColors,labels:tbLabels,cx:719.5,cy:577.5,top:425,tx:509,ty:410,ltx:509,lty:671,fs:13,
  box:[509.5,674,354.5,46.5],
  items:[[0,518,680,535],[1,599,680,613],[2,681,680,696],[5,758,680,775],[3,518,702,532],[4,599,702,615],[6,681,702,697]]}
];

const svg = d3.select("#c");
panels.forEach(p => {
  const lookup = new Map();
  p.classes.forEach((list,i) => list.forEach(id => lookup.set(id,i)));
  const fill = d3.scaleOrdinal().domain(d3.range(p.colors.length)).range(p.colors);
  const projection = d3.geoMercator().rotate([-11,0]).scale(67.2).translate([p.cx,p.cy]).precision(0)
      .clipExtent([[0,p.top],[960,780]]);
  const path = d3.geoPath(projection);
  const g = svg.append("g");
  g.selectAll("path.c").data(features).join("path").attr("class","c").attr("d",path)
    .attr("fill",d => fill(lookup.get(d.id)))
    .attr("stroke","#4b4c44").attr("stroke-width",0.7).attr("stroke-linejoin","round");
  g.append("path").datum(lakeFeature).attr("d",path).attr("fill","#fff").attr("stroke","#4b4c44").attr("stroke-width",0.5);
  svg.append("text").attr("x",p.tx).attr("y",p.ty).attr("font-size",13.5).attr("font-weight",700).attr("fill","#111").text(p.title);
  if (p.lt) svg.append("text").attr("x",p.ltx).attr("y",p.lty).attr("font-size",13).attr("fill","#222").text(p.lt);
  svg.append("rect").attr("x",p.box[0]).attr("y",p.box[1]).attr("width",p.box[2]).attr("height",p.box[3])
    .attr("fill","#fff").attr("stroke","#8a8a8a").attr("stroke-width",1);
  p.items.forEach(([k,sx,sy,tx]) => {
    svg.append("rect").attr("x",sx+.5).attr("y",sy+.5).attr("width",10.5).attr("height",10.5)
      .attr("fill",fill(k)).attr("stroke","#8f8f88").attr("stroke-width",.8);
    svg.append("text").attr("x",tx).attr("y",sy+10.5).attr("font-size",p.fs).attr("fill","#333").text(p.labels[k]);
  });
});
</script></body></html>
